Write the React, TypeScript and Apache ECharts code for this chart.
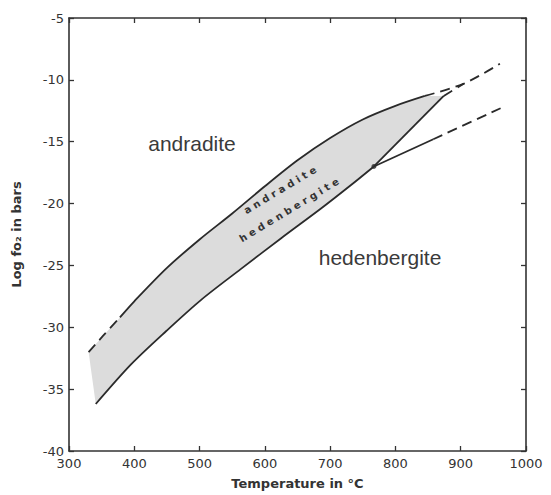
import React, { useEffect, useRef } from "react";
import * as echarts from "echarts";

// Boundary curves (Temperature °C, log fO2 in bars)
const upperDashLowT = [330, 352, 378];
const upperDashLowL = [-32.0, -30.7, -29.2];
const upperT = [378, 400, 450, 500, 550, 600, 650, 700, 750, 800, 845];
const upperL = [-29.2, -27.9, -25.2, -22.9, -20.8, -18.6, -16.5, -14.7, -13.2, -12.1, -11.3];
const upperDashHighT = [845, 905, 960];
const upperDashHighL = [-11.3, -10.3, -8.7];
const lowerT = [341, 395, 449, 502, 563, 625, 686, 732, 767];
const lowerL = [-36.2, -33.0, -30.3, -27.8, -25.3, -22.8, -20.4, -18.5, -17.0];
const steepT = [767, 874];
const steepL = [-17.0, -11.3];
const steepDashT = [874, 905];
const steepDashL = [-11.3, -10.3];
const branchT = [767, 858];
const branchL = [-17.0, -14.8];
const branchDashT = [858, 965];
const branchDashL = [-14.8, -12.2];
const junctionT = [767];
const junctionL = [-17.0];

const regionLabels = ["andradite", "hedenbergite"];
const bandLabels = ["a n d r a d i t e", "h e d e n b e r g i t e"];

const pairs = (t: number[], l: number[]) => t.map((v, i) => [v, l[i]]);

const INK = "#2a2a2a";

export default function App() {
  const ref = useRef<HTMLDivElement>(null);
  useEffect(() => {
    if (!ref.current) return;
    const chart = echarts.init(ref.current, undefined, { renderer: "svg" });

    const polygonPts = [
      ...pairs(upperDashLowT, upperDashLowL),
      ...pairs(upperT, upperL).slice(1),
      [steepT[1], steepL[1]],
      ...pairs(lowerT, lowerL).reverse(),
    ];

    const lineSeries = (t: number[], l: number[], dashed: boolean) => ({
      type: "line",
      data: pairs(t, l),
      showSymbol: false,
      smooth: 0.3,
      silent: true,
      lineStyle: {
        color: INK,
        width: 1.8,
        type: dashed ? [10, 6] : "solid",
      },
      z: 3,
    });

    const axisCommon = {
      axisLine: { show: true, lineStyle: { color: "#333", width: 1.6 } },
      axisTick: { show: true, inside: true, length: 5, lineStyle: { color: "#333", width: 1.3 } },
      splitLine: { show: false },
    };

    chart.setOption({
      animation: false,
      backgroundColor: "#ffffff",
      grid: { left: 69, right: 25, top: 18, bottom: 40 },
      xAxis: [
        {
          type: "value",
          min: 300,
          max: 1000,
          interval: 100,
          ...axisCommon,
          axisLabel: {
            color: "#333",
            fontSize: 13,
            fontFamily: "DejaVu Sans",
            margin: 6,
            formatter: (v: number) => String(v),
          },
          name: "Temperature in °C",
          nameLocation: "middle",
          nameGap: 26,
          nameTextStyle: {
            color: "#333",
            fontSize: 13,
            fontWeight: "bold",
            fontFamily: "DejaVu Sans",
          },
        },
        {
          type: "value",
          position: "top",
          min: 300,
          max: 1000,
          interval: 100,
          ...axisCommon,
          axisLabel: { show: false },
        },
      ],
      yAxis: [
        {
          type: "value",
          min: -40,
          max: -5,
          interval: 5,
          ...axisCommon,
          axisLabel: {
            color: "#333",
            fontSize: 13,
            fontFamily: "DejaVu Sans",
            margin: 5,
            formatter: (v: number) => String(v),
          },
          name: "Log fo₂ in bars",
          nameLocation: "middle",
          nameGap: 46,
          nameTextStyle: {
            color: "#333",
            fontSize: 13,
            fontWeight: "bold",
            fontFamily: "DejaVu Sans",
          },
        },
        {
          type: "value",
          position: "right",
          min: -40,
          max: -5,
          interval: 5,
          ...axisCommon,
          axisLabel: { show: false },
        },
      ],
      series: [
        {
          type: "custom",
          silent: true,
          data: [0],
          z: 1,
          renderItem: (_params: any, api: any) => ({
            type: "polygon",
            shape: { points: polygonPts.map((p) => api.coord(p)) },
            style: { fill: "#dcdcdc", stroke: "none" },
          }),
        },
        lineSeries(upperDashLowT, upperDashLowL, true),
        lineSeries(upperT, upperL, false),
        lineSeries(upperDashHighT, upperDashHighL, true),
        lineSeries(lowerT, lowerL, false),
        lineSeries(steepT, steepL, false),
        lineSeries(steepDashT, steepDashL, true),
        lineSeries(branchT, branchL, false),
        lineSeries(branchDashT, branchDashL, true),
        {
          type: "scatter",
          data: pairs(junctionT, junctionL),
          symbolSize: 5,
          itemStyle: { color: INK },
          silent: true,
          z: 4,
        },
      ],
      graphic: [
        {
          type: "text",
          x: 192,
          y: 143,
          silent: true,
          style: {
            text: regionLabels[0],
            fill: "#3a3a3a",
            font: "21px 'Liberation Sans', Arial, sans-serif",
            align: "center",
            verticalAlign: "middle",
            textAlign: "center",
            textVerticalAlign: "middle",
          },
        },
        {
          type: "text",
          x: 380,
          y: 257,
          silent: true,
          style: {
            text: regionLabels[1],
            fill: "#3a3a3a",
            font: "21px 'Liberation Sans', Arial, sans-serif",
            align: "center",
            verticalAlign: "middle",
            textAlign: "center",
            textVerticalAlign: "middle",
          },
        },
        {
          type: "text",
          x: 280,
          y: 190,
          rotation: (31 * Math.PI) / 180,
          silent: true,
          z: 10,
          style: {
            text: bandLabels[0],
            fill: "#333",
            font: "bold 10px 'DejaVu Sans', sans-serif",
            align: "center",
            verticalAlign: "middle",
            textAlign: "center",
            textVerticalAlign: "middle",
          },
        },
        {
          type: "text",
          x: 289,
          y: 210,
          rotation: (31 * Math.PI) / 180,
          silent: true,
          z: 10,
          style: {
            text: bandLabels[1],
            fill: "#333",
            font: "bold 10px 'DejaVu Sans', sans-serif",
            align: "center",
            verticalAlign: "middle",
            textAlign: "center",
            textVerticalAlign: "middle",
          },
        },
      ],
    });

    return () => chart.dispose();
  }, []);

  return (
    <div
      ref={ref}
      style={{ position: "fixed", left: 0, top: 0, width: 551, height: 495, background: "#fff" }}
    />
  );
}
